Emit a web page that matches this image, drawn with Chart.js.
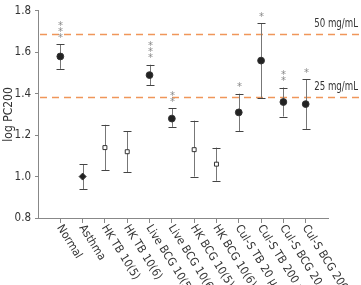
<!DOCTYPE html>
<html>
<head>
<meta charset="utf-8">
<script src="https://cdn.jsdelivr.net/npm/chart.js@4.4.0/dist/chart.umd.min.js"></script>
<style>
  html, body { margin: 0; padding: 0; background: #fff; }
  #wrap { width: 361px; height: 285px; position: relative; }
</style>
</head>
<body>
<div id="wrap"><canvas id="myChart"></canvas></div>
<script>
var Groups = ['Normal', 'Asthma', 'HK TB 10(5)', 'HK TB 10(6)', 'Live BCG 10(5)', 'Live BCG 10(6)',
              'HK BCG 10(5)', 'HK BCG 10(6)', 'Cul-S TB 20 \u03bcg', 'Cul-S TB 200 \u03bcg',
              'Cul-S BCG 20 \u03bcg', 'Cul-S BCG 200 \u03bcg'];
var Means  = [1.58, 1.00, 1.14, 1.12, 1.49, 1.28, 1.13, 1.06, 1.31, 1.56, 1.36, 1.35];
var ErrHi  = [1.64, 1.06, 1.25, 1.22, 1.54, 1.33, 1.27, 1.14, 1.40, 1.74, 1.43, 1.47];
var ErrLo  = [1.52, 0.94, 1.03, 1.02, 1.44, 1.24, 1.00, 0.98, 1.22, 1.38, 1.29, 1.23];
var Stars  = [3, 0, 0, 0, 3, 2, 0, 0, 1, 1, 2, 1];
var Markers = ['circle', 'rectRot', 'rect', 'rect', 'circle', 'circle', 'rect', 'rect', 'circle', 'circle', 'circle', 'circle'];
var RefLines = [1.69, 1.385];
var RefLabels = ['50 mg/mL', '25 mg/mL'];

var FONT = "'Liberation Sans Narrow', 'DejaVu Sans Condensed', 'Roboto', sans-serif";

var points = Means.map(function (m, i) { return { x: i, y: m }; });

// error bars, reference lines, stars and slanted category names
var extras = {
    id: 'extras',
    beforeDatasetsDraw: function (chart) {
        var c = chart.ctx, xs = chart.scales.x, ys = chart.scales.y;
        c.save();
        // dashed reference lines
        c.strokeStyle = '#f0965a';
        c.lineWidth = 1.5;
        c.setLineDash([7, 5]);
        RefLines.forEach(function (v) {
            var y = Math.round(ys.getPixelForValue(v)) + 0.5;
            c.beginPath();
            c.moveTo(chart.chartArea.left + 2, y);
            c.lineTo(chart.width, y);
            c.stroke();
        });
        c.setLineDash([]);
        c.fillStyle = '#333';
        c.font = '13px ' + FONT;
        c.textAlign = 'right';
        c.textBaseline = 'bottom';
        RefLines.forEach(function (v, i) {
            c.save();
            c.translate(chart.width - 3, ys.getPixelForValue(v) - 4);
            c.scale(0.74, 1);   // narrow look
            c.fillText(RefLabels[i], 0, 0);
            c.restore();
        });
        // error bars
        for (var i = 0; i < Means.length; i++) {
            var x = Math.round(xs.getPixelForValue(i)) + 0.5;
            var yt = ys.getPixelForValue(ErrHi[i]);
            var yb = ys.getPixelForValue(ErrLo[i]);
            c.strokeStyle = '#777';
            c.lineWidth = 1;
            c.beginPath();
            c.moveTo(x, yt); c.lineTo(x, yb);
            c.stroke();
            c.strokeStyle = '#444';
            c.beginPath();
            c.moveTo(x - 4, Math.round(yt) + 0.5); c.lineTo(x + 4, Math.round(yt) + 0.5);
            c.moveTo(x - 4, Math.round(yb) + 0.5); c.lineTo(x + 4, Math.round(yb) + 0.5);
            c.stroke();
            // significance stars
            c.fillStyle = '#888';
            c.font = '10px DejaVu Sans';
            c.textAlign = 'center';
            c.textBaseline = 'middle';
            for (var s = 0; s < Stars[i]; s++) {
                c.fillText('*', x, yt - 6 - s * 6);
            }
        }
        c.restore();
    },
    afterDraw: function (chart) {
        var c = chart.ctx, xs = chart.scales.x;
        var y0 = chart.chartArea.bottom + 8;
        c.save();
        c.fillStyle = '#333';
        c.font = '11.5px ' + FONT;
        c.textAlign = 'left';
        c.textBaseline = 'middle';
        Groups.forEach(function (g, i) {
            c.save();
            c.translate(xs.getPixelForValue(i) - 1, y0);
            c.rotate(58 * Math.PI / 180);
            c.fillText(g, 0, 0);
            c.restore();
        });
        c.restore();
    }
};

const ctx = document.getElementById('myChart');
const myChart = new Chart(ctx, {
    type: 'scatter',
    data: {
        datasets: [{
            data: points,
            pointStyle: Markers,
            pointRadius: Markers.map(function (m) { return m === 'rect' ? 2.8 : (m === 'rectRot' ? 3.5 : 3.4); }),
            backgroundColor: Markers.map(function (m) { return m === 'rect' ? '#fff' : '#222'; }),
            borderColor: '#333',
            borderWidth: 1
        }]
    },
    options: {
        responsive: true,
        maintainAspectRatio: false,
        animation: false,
        layout: { padding: { top: 4, right: 33, left: 0, bottom: 0 } },
        plugins: { legend: { display: false }, tooltip: { enabled: false } },
        scales: {
            x: {
                type: 'linear',
                min: -1,
                max: 12,
                afterBuildTicks: function (scale) {
                    scale.ticks = Groups.map(function (g, i) { return { value: i }; });
                },
                afterFit: function (scale) { scale.height = 67; },
                ticks: { display: false },
                border: { color: '#888', width: 1 },
                grid: { drawOnChartArea: false, tickLength: 5, color: '#888' }
            },
            y: {
                min: 0.8,
                max: 1.8,
                afterFit: function (scale) { scale.width = 38; },
                ticks: { stepSize: 0.2, color: '#333', font: { family: FONT, size: 11.5 },
                         padding: 4, callback: function (v) { return v.toFixed(1); } },
                border: { color: '#888', width: 1 },
                grid: { drawOnChartArea: false, tickLength: 3, color: '#888' },
                title: { display: true, text: 'log PC200', color: '#333', padding: { top: 2, bottom: 0 },
                         font: { family: FONT, size: 12 } }
            }
        }
    },
    plugins: [extras]
});
</script>
</body>
</html>
